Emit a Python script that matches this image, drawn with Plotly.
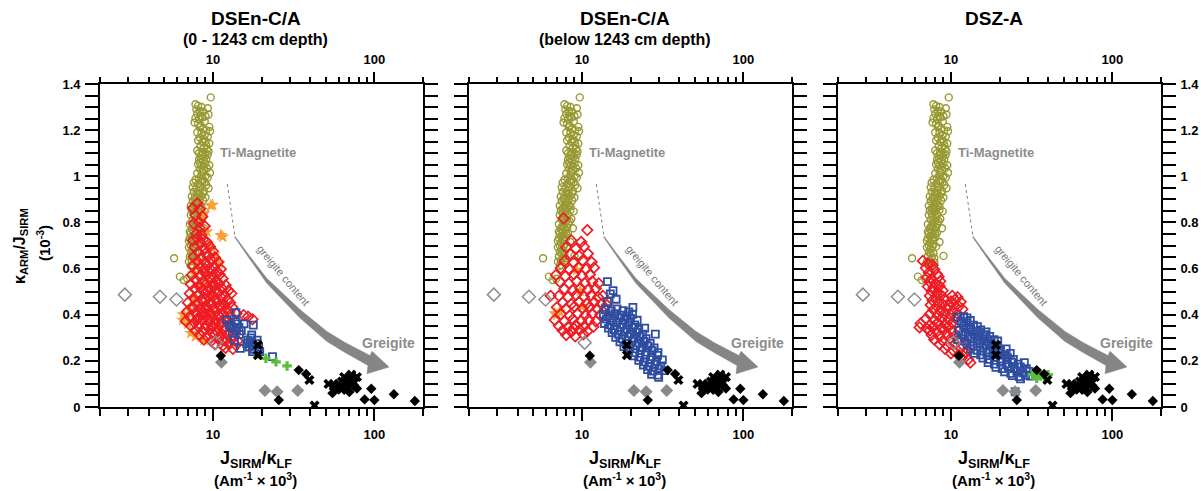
import plotly.graph_objects as go

W, H = 1201, 491
FONT = "Liberation Sans"

# ---------------- data (x = J_SIRM/k_LF, y = k_ARM/J_SIRM) ----------------
# reference data shown in all three panels
ti_mag = [(9.7,1.342),(7.8,1.312),(8.1,1.305),(7.9,1.29),(9.3,1.295),(8.3,1.283),(8.0,1.27),(8.4,1.262),(9.4,1.268),(7.8,1.252),
          (8.2,1.247),(8.6,1.255),(7.7,1.233),(8.1,1.228),(8.9,1.238),(8.3,1.212),(9.5,1.214),(8.7,1.205),(9.6,1.195),(8.5,1.188),
          (8.9,1.178),(8.3,1.168),(8.8,1.162),(9.3,1.172),(8.6,1.148),(9.0,1.152),(9.5,1.142),(8.4,1.132),(8.8,1.126),(9.2,1.118),
          (8.0,1.112),(8.6,1.105),(9.4,1.108),(8.5,1.092),(8.9,1.085),(9.3,1.094),(8.2,1.072),(8.7,1.066),(9.1,1.075),(8.1,1.052),
          (8.5,1.046),(9.0,1.055),(9.5,1.048),(8.3,1.032),(8.8,1.026),(9.2,1.035),(8.0,1.012),(8.5,1.006),(9.6,1.015),(8.2,0.992),
          (8.7,0.986),(9.3,0.995),(7.6,0.972),(8.1,0.966),(8.6,0.975),(9.1,0.962),(7.5,0.952),(7.9,0.946),(8.4,0.955),(9.4,0.948),
          (7.6,0.932),(8.2,0.926),(8.8,0.935),(7.4,0.912),(7.9,0.906),(8.5,0.915),(9.0,0.908),(7.5,0.892),(8.1,0.886),(8.7,0.895),
          (7.3,0.872),(7.8,0.866),(8.3,0.875),(7.4,0.852),(7.9,0.846),(8.5,0.855),(8.9,0.848),(7.3,0.832),(7.7,0.826),(8.2,0.835),
          (7.5,0.812),(8.0,0.806),(8.6,0.815),(7.2,0.792),(7.7,0.786),(8.3,0.795),(7.4,0.772),(7.9,0.766),(8.8,0.775),(7.3,0.752),
          (7.7,0.746),(8.2,0.755),(7.2,0.732),(7.6,0.726),(8.0,0.735),(7.4,0.712),(7.8,0.706),(8.5,0.715),(7.1,0.692),(7.5,0.686),
          (8.1,0.695),(7.3,0.672),(7.8,0.666),(7.2,0.652),(7.6,0.646),(5.75,0.645),(9.0,0.655),(7.4,0.632),(7.9,0.626),(7.3,0.612),
          (6.25,0.565),(6.6,0.55),(6.95,0.556),
          (8.5,1.30),(8.7,1.28),(9.0,1.26),(8.4,1.22),(9.1,1.20),(8.0,1.19),(8.1,1.155),(9.1,1.135),(8.2,1.10),(9.0,1.10),
          (8.4,1.078),(8.8,1.045),(8.3,1.06),(8.6,1.02),(9.0,1.0),(8.4,0.98),(8.9,0.975),(7.8,0.985),(8.3,0.94),(8.7,0.925),
          (8.0,0.925),(7.7,0.905),(8.3,0.898),(7.9,0.876),(8.5,0.87),(7.6,0.86),(8.1,0.858),(7.6,0.84),(8.1,0.82),(7.8,0.80),
          (8.4,0.805),(7.5,0.78),(8.1,0.778),(7.6,0.76),(8.0,0.75),(7.4,0.74),(7.8,0.725),(7.3,0.70),(7.7,0.695),(7.5,0.665),
          (7.9,0.645),(7.5,0.615),(7.1,0.63),(7.2,0.76),(7.1,0.72)]
gray_open = [(2.85,0.487),(4.7,0.478),(5.95,0.466),(10.4,0.279)]
gray_filled = [(11.3,0.194),(21.0,0.071),(25.0,0.066),(33.5,0.071)]
black_dia = [(11.2,0.222),(25.6,0.030),(34,0.160),(37.8,0.143),(95.7,0.079),(87,0.033),(100,0.030),(132,0.055),(178,0.026),
             (55,0.06),(60,0.08),(65,0.075),(70,0.065),(75,0.09),(62,0.095),(58,0.1),(72,0.11),(78,0.08),(68,0.09)]
black_x = [(19,0.269),(19,0.225),(39.6,0.117),(42.6,0.006),(52,0.10),(56,0.09),(60,0.095),(63,0.11),(66,0.10),(70,0.12),
           (72,0.14),(75,0.105),(68,0.085),(58,0.075),(78,0.13),(65,0.13)]

# panel 1: DSEn-C/A 0-1243 cm
red_1 = [(8.0,0.883),(7.5,0.862),(8.3,0.858),(7.8,0.832),(8.6,0.826),(8.2,0.802),(7.6,0.795),(8.3,0.776),(8.9,0.784),(7.9,0.752),
         (8.5,0.746),(8.0,0.732),(8.7,0.726),(7.5,0.722),(8.4,0.708),(9.2,0.714),(7.7,0.692),(8.8,0.686),(9.6,0.695),(8.1,0.672),
         (9.0,0.666),(10.0,0.675),(7.6,0.652),(8.5,0.646),(9.4,0.655),(10.3,0.648),(8.0,0.632),(8.9,0.626),(9.8,0.635),(10.8,0.628),
         (7.5,0.612),(8.4,0.606),(9.3,0.615),(10.2,0.608),(7.9,0.592),(8.8,0.586),(9.7,0.595),(10.6,0.588),(11.2,0.598),(7.4,0.572),
         (8.3,0.566),(9.2,0.575),(10.1,0.568),(11.0,0.574),(7.8,0.552),(8.7,0.546),(9.6,0.555),(10.5,0.548),(11.5,0.556),(7.3,0.532),
         (8.2,0.526),(9.1,0.535),(10.0,0.528),(10.9,0.534),(12.0,0.528),(7.7,0.512),(8.6,0.506),(9.5,0.515),(10.4,0.508),(11.4,0.514),
         (12.5,0.505),(7.2,0.492),(8.1,0.486),(9.0,0.495),(9.9,0.488),(10.8,0.494),(11.8,0.486),(13.0,0.492),(7.6,0.472),(8.5,0.466),
         (9.4,0.475),(10.3,0.468),(11.3,0.474),(12.3,0.466),(7.0,0.452),(7.9,0.446),(8.8,0.455),(9.7,0.448),(10.7,0.454),(11.7,0.446),
         (12.8,0.452),(7.4,0.432),(8.3,0.426),(9.2,0.435),(10.1,0.428),(11.1,0.434),(12.1,0.426),(13.2,0.432),(6.9,0.412),(7.8,0.406),
         (8.7,0.415),(9.6,0.408),(10.5,0.414),(11.5,0.406),(12.6,0.412),(14.0,0.405),(15.5,0.398),(7.2,0.392),(8.1,0.386),(9.0,0.395),
         (9.9,0.388),(10.9,0.394),(11.9,0.386),(13.0,0.392),(16.5,0.392),(17.6,0.38),(6.8,0.372),(7.7,0.366),(8.6,0.375),(9.5,0.368),
         (10.4,0.374),(11.4,0.366),(12.4,0.372),(7.3,0.352),(8.2,0.346),(9.1,0.355),(10.0,0.348),(11.0,0.354),(12.0,0.346),(13.1,0.352),
         (7.8,0.332),(8.7,0.326),(9.6,0.335),(10.6,0.328),(11.6,0.334),(12.7,0.326),(13.8,0.332),(8.3,0.312),(9.2,0.306),(10.2,0.315),
         (11.2,0.308),(12.3,0.314),(13.5,0.306),(8.8,0.292),(9.8,0.286),(10.8,0.295),(11.9,0.288),(13.0,0.294),(14.2,0.286),(10.3,0.272),
         (11.5,0.266),(12.6,0.275),(13.9,0.268),(12.0,0.256),(13.3,0.252),
         (8.4,0.52),(9.3,0.50),(8.8,0.47),(9.8,0.45),(8.5,0.40),(9.4,0.38),(10.3,0.36),(8.9,0.34),(9.9,0.32),(10.8,0.40),
         (9.0,0.42),(8.0,0.38),(9.6,0.56),(10.2,0.53),(8.9,0.60),(11.0,0.44),(10.5,0.33),(11.5,0.29),(7.6,0.43),(8.2,0.36)]
orange_1 = [(9.7,0.873),(8.5,0.82),(9.95,0.876),(8.8,0.84),(11.2,0.745),(11.5,0.738),(9.2,0.76),(10.9,0.623),(7.65,0.58),(9.4,0.70),
            (10.2,0.66),(8.0,0.62),(9.0,0.55),(10.5,0.52),(7.6,0.47),(8.6,0.44),(6.6,0.40),(6.5,0.377),(6.55,0.40),(6.8,0.385),
            (7.0,0.36),(7.8,0.305),(8.8,0.29),(7.3,0.32),(9.5,0.41),(10.8,0.36),(8.2,0.53),(9.8,0.48),(7.2,0.42),(11.8,0.44)]
blue_1 = [(12.2,0.377),(13.9,0.409),(15.6,0.36),(17.8,0.355),(13.6,0.29),(14.8,0.254),(17.4,0.312),(23.4,0.218),(13.0,0.35),(13.5,0.34),
          (14.0,0.33),(14.5,0.345),(13.2,0.32),(14.2,0.36),(15.0,0.33),(14.6,0.315),(13.8,0.37),(12.6,0.355),(16.5,0.29),(17.0,0.28),
          (17.5,0.265),(18.0,0.25),(16.8,0.26),(17.6,0.24),(18.5,0.275),(19.2,0.26),(16.2,0.275),(18.8,0.29),(17.2,0.3),(19.5,0.24)]
green_1 = [(21.3,0.211),(24.6,0.196),(28.8,0.178)]

# panel 2: DSEn-C/A below 1243 cm
red_2 = [(7.7,0.818),(10.8,0.767),(8.6,0.722),(9.9,0.716),(8.0,0.692),(9.2,0.686),(10.3,0.695),(8.5,0.662),(9.6,0.656),(10.9,0.665),
         (7.8,0.632),(8.9,0.626),(10.1,0.635),(11.5,0.628),(7.4,0.602),(8.4,0.596),(9.5,0.605),(10.6,0.598),(11.9,0.604),(6.9,0.572),
         (7.9,0.566),(8.9,0.575),(10.0,0.568),(11.2,0.574),(7.3,0.542),(8.3,0.536),(9.3,0.545),(10.4,0.538),(11.6,0.544),(12.7,0.536),
         (7.8,0.512),(8.8,0.506),(9.8,0.515),(10.9,0.508),(12.2,0.514),(6.4,0.482),(7.2,0.482),(8.2,0.476),(9.2,0.485),(10.3,0.478),
         (11.4,0.484),(12.6,0.476),(13.5,0.482),(7.6,0.452),(8.6,0.446),(9.6,0.455),(10.7,0.448),(11.9,0.454),(13.2,0.446),(7.0,0.432),
         (8.0,0.426),(9.0,0.435),(10.1,0.428),(11.2,0.434),(12.4,0.426),(14.3,0.442),(7.4,0.402),(8.4,0.396),(9.4,0.405),(10.5,0.398),
         (11.6,0.404),(13.0,0.4),(6.8,0.377),(7.8,0.371),(8.8,0.38),(9.9,0.373),(11.0,0.379),(12.2,0.371),(7.2,0.352),(8.2,0.346),
         (9.2,0.355),(10.3,0.348),(11.8,0.348),(7.6,0.332),(8.6,0.326),(9.7,0.335),(10.8,0.328),(8.0,0.312),(8.9,0.341),(9.1,0.306),
         (10.2,0.315)]
orange_2 = [(9.3,0.594),(9.76,0.504),(10.0,0.435),(6.8,0.406),(7.3,0.413),(7.0,0.398)]
blue_2 = [(14.4,0.543),(15.6,0.504),(16.3,0.467),(14.4,0.457),(20.7,0.432),(15.0,0.49),(14.0,0.422),(15.2,0.416),(16.5,0.425),(18.0,0.418),
          (19.5,0.412),(13.6,0.402),(14.8,0.396),(16.0,0.405),(17.4,0.398),(19.0,0.394),(20.6,0.402),(14.2,0.382),(15.5,0.376),(16.9,0.385),
          (18.4,0.378),(20.0,0.384),(22.0,0.376),(13.8,0.362),(15.0,0.356),(16.4,0.365),(17.9,0.358),(19.5,0.364),(21.2,0.356),(14.6,0.342),
          (15.9,0.336),(17.3,0.345),(18.9,0.338),(20.6,0.344),(22.5,0.336),(24.5,0.342),(15.4,0.322),(16.8,0.316),(18.3,0.325),(20.0,0.318),
          (21.8,0.324),(23.8,0.316),(28.5,0.316),(16.2,0.302),(17.7,0.296),(19.3,0.305),(21.1,0.298),(23.0,0.304),(25.0,0.296),(17.2,0.282),
          (18.8,0.276),(20.5,0.285),(22.3,0.278),(24.3,0.284),(26.5,0.276),(18.2,0.262),(19.8,0.256),(21.6,0.265),(23.6,0.258),(25.7,0.264),
          (28.0,0.256),(19.5,0.242),(21.2,0.236),(23.0,0.245),(25.0,0.238),(27.2,0.244),(29.6,0.236),(21.0,0.222),(22.8,0.216),(24.8,0.225),
          (27.0,0.218),(29.4,0.224),(22.5,0.202),(24.4,0.196),(26.6,0.205),(29.0,0.198),(31.5,0.204),(24.0,0.182),(26.0,0.176),(28.3,0.185),
          (30.8,0.178),(25.5,0.162),(27.6,0.156),(30.0,0.165),(32.5,0.158),(27.0,0.142),(29.5,0.138),(29.9,0.128)]

# panel 3: DSZ-A
red_3 = [(6.7,0.633),(7.7,0.615),(7.2,0.622),(7.0,0.602),(7.9,0.596),(7.3,0.582),(8.2,0.576),(7.1,0.562),(7.6,0.556),(8.4,0.565),
         (7.4,0.542),(8.0,0.536),(8.6,0.545),(7.2,0.522),(7.8,0.516),(8.5,0.525),(7.6,0.502),(8.2,0.496),(8.9,0.505),(7.4,0.482),
         (8.1,0.476),(8.7,0.485),(10.2,0.482),(11.0,0.476),(7.7,0.462),(8.4,0.456),(9.1,0.465),(10.0,0.458),(10.6,0.464),(11.5,0.456),
         (7.5,0.442),(8.2,0.436),(8.9,0.445),(9.7,0.438),(10.4,0.444),(11.2,0.436),(7.8,0.422),(8.6,0.416),(9.4,0.425),(10.3,0.418),
         (11.8,0.424),(7.4,0.402),(8.3,0.396),(9.1,0.405),(10.0,0.398),(11.0,0.404),(7.0,0.382),(7.9,0.376),(8.8,0.385),(9.7,0.378),
         (10.7,0.384),(6.5,0.362),(7.4,0.356),(8.3,0.365),(9.2,0.358),(10.2,0.364),(6.4,0.345),(7.1,0.34),(7.8,0.348),(8.7,0.342),
         (9.7,0.35),(7.4,0.332),(8.2,0.326),(9.1,0.335),(10.2,0.328),(11.3,0.334),(7.6,0.312),(8.5,0.306),(9.5,0.315),(10.6,0.308),
         (7.9,0.292),(8.9,0.286),(9.9,0.295),(11.1,0.288),(8.5,0.272),(9.5,0.266),(10.6,0.275),(11.8,0.268),(9.2,0.252),(10.3,0.246),
         (11.5,0.255),(12.7,0.248),(10.0,0.232),(11.2,0.226),(12.4,0.235),(11.6,0.212),(12.8,0.206),(13.2,0.192)]
blue_3 = [(11.0,0.39),(12.0,0.392),(12.6,0.386),(11.6,0.372),(12.4,0.366),(13.2,0.375),(12.0,0.352),(12.9,0.346),(13.8,0.355),(14.6,0.348),
          (11.2,0.332),(12.3,0.326),(13.3,0.335),(14.3,0.328),(15.3,0.334),(16.5,0.326),(11.8,0.312),(12.8,0.306),(13.9,0.315),(15.0,0.308),
          (16.2,0.314),(17.4,0.306),(11.0,0.292),(12.2,0.286),(13.3,0.295),(14.5,0.288),(15.7,0.294),(17.0,0.286),(18.5,0.292),(19.5,0.286),
          (12.6,0.272),(13.8,0.266),(15.1,0.275),(16.4,0.268),(17.8,0.274),(19.3,0.266),(13.2,0.252),(14.5,0.246),(15.8,0.255),(17.2,0.248),
          (18.7,0.254),(20.3,0.246),(22.0,0.252),(14.0,0.232),(15.3,0.226),(16.7,0.235),(18.2,0.228),(19.8,0.234),(21.5,0.226),(23.3,0.232),
          (15.8,0.212),(17.3,0.206),(18.9,0.215),(20.6,0.208),(22.4,0.214),(24.4,0.206),(17.0,0.192),(18.6,0.186),(20.3,0.195),(22.1,0.188),
          (24.0,0.194),(26.1,0.186),(28.5,0.192),(19.0,0.172),(20.8,0.166),(22.7,0.175),(24.7,0.168),(26.9,0.174),(29.3,0.166),(21.5,0.152),
          (23.5,0.146),(25.6,0.155),(27.9,0.148),(30.4,0.154),(24.0,0.136),(26.5,0.132),(29.0,0.138),(31.0,0.134),(27.0,0.122),(25.0,0.066)]
green_3 = [(32,0.14),(34,0.125),(36,0.135),(38,0.128),(40,0.14),(35,0.145)]

panel_titles = ["DSEn-C/A", "DSEn-C/A", "DSZ-A"]
panel_subtitles = ["(0 - 1243 cm depth)", "(below 1243 cm depth)", ""]
x_major = [10, 100]
x_minor = [2, 3, 4, 5, 6, 7, 8, 9, 20, 30, 40, 50, 60, 70, 80, 90, 200]

# ---------------- layout geometry ----------------
PANEL_L = [100, 469, 838]
PANEL_W = 323
PT, PB = 84, 407
dom_y = [1 - PB / H, 1 - PT / H]

OLIVE = "#999933"
RED = "#ee1c24"
ORANGE = "#f7a035"
BLUE = "#2e4da0"
GREEN = "#5cbf3c"
GRAY = "#8c8c8c"

styles = {
    "ti": dict(symbol="circle-open", size=7, color=OLIVE, line=dict(width=1.4, color=OLIVE)),
    "orange": dict(symbol="star", size=10, color=ORANGE, line=dict(width=0)),
    "red": dict(symbol="diamond-open", size=8, color=RED, line=dict(width=1.7, color=RED)),
    "blue": dict(symbol="square-open", size=7, color=BLUE, line=dict(width=1.8, color=BLUE)),
    "green": dict(symbol="cross", size=8, color=GREEN, line=dict(width=0)),
    "gopen": dict(symbol="diamond-open", size=10, color="#909090", line=dict(width=1.5, color="#909090")),
    "gfill": dict(symbol="diamond", size=10, color="#8a8a8a", line=dict(width=0)),
    "bdia": dict(symbol="diamond", size=8, color="black", line=dict(width=0)),
    "bx": dict(symbol="x", size=9, color="black", line=dict(width=0)),
}

panels = [
    [("ti", ti_mag), ("orange", orange_1), ("red", red_1), ("blue", blue_1), ("green", green_1),
     ("gopen", gray_open), ("gfill", gray_filled), ("bdia", black_dia), ("bx", black_x)],
    [("ti", ti_mag), ("orange", orange_2), ("red", red_2), ("blue", blue_2),
     ("gopen", gray_open), ("gfill", gray_filled), ("bdia", black_dia), ("bx", black_x)],
    [("ti", ti_mag), ("red", red_3), ("blue", blue_3), ("green", green_3),
     ("gopen", gray_open), ("gfill", gray_filled), ("bdia", black_dia), ("bx", black_x)],
]

fig = go.Figure()
for i, series in enumerate(panels):
    xa = "x" if i == 0 else f"x{i+1}"
    ya = "y" if i == 0 else f"y{i+1}"
    for key, pts in series:
        fig.add_trace(go.Scatter(x=[p[0] for p in pts], y=[p[1] for p in pts], mode="markers",
                                 marker=styles[key], xaxis=xa, yaxis=ya, hoverinfo="skip", showlegend=False))
    # invisible trace to carry the top axis
    fig.add_trace(go.Scatter(x=[10], y=[None], xaxis=f"x{i+4}", yaxis=ya, mode="markers",
                             marker=dict(opacity=0), showlegend=False, hoverinfo="skip"))

tickfont = dict(family=FONT, size=13, color="black", weight="bold")
xrange_log = [0.30103, 2.30103]

lay = {}
for i in range(3):
    dx = [PANEL_L[i] / W, (PANEL_L[i] + PANEL_W) / W]
    xname = "xaxis" if i == 0 else f"xaxis{i+1}"
    yname = "yaxis" if i == 0 else f"yaxis{i+1}"
    yref = "y" if i == 0 else f"y{i+1}"
    xref = "x" if i == 0 else f"x{i+1}"
    lay[xname] = dict(type="log", range=xrange_log, domain=dx, anchor=yref, side="bottom", automargin=False,
                      showline=True, linecolor="black", linewidth=1.6, mirror=True,
                      showgrid=False, zeroline=False, ticks="outside", ticklen=12, tickwidth=1.6,
                      tickcolor="black", tickmode="array", tickvals=x_major, ticktext=["10", "100"],
                      tickfont=tickfont, ticklabelstandoff=3,
                      minor=dict(tickmode="array", tickvals=x_minor, ticks="outside", ticklen=7,
                                 tickwidth=1.6, tickcolor="black", showgrid=False))
    lay[f"xaxis{i+4}"] = dict(type="log", range=xrange_log, overlaying=xref, anchor=yref, side="top", automargin=False,
                              showline=True, linecolor="black", linewidth=1.6,
                              showgrid=False, zeroline=False, ticks="outside", ticklen=10, tickwidth=1.6,
                              tickcolor="black", tickmode="array", tickvals=x_major, ticktext=["10", "100"],
                              tickfont=tickfont, ticklabelstandoff=3,
                              minor=dict(tickmode="array", tickvals=x_minor, ticks="outside", ticklen=5,
                                         tickwidth=1.6, tickcolor="black", showgrid=False))
    lay[yname] = dict(range=[0, 1.4], domain=dom_y, anchor=xref, side="right" if i == 2 else "left",
                      automargin=False,
                      showline=True, linecolor="black", linewidth=1.6, mirror="allticks",
                      showgrid=False, zeroline=False, ticks="outside", ticklen=13, tickwidth=1.6,
                      tickcolor="black", dtick=0.2, tick0=0, showticklabels=(i != 1),
                      tickfont=tickfont, ticklabelstandoff=2,
                      minor=dict(dtick=0.05, tick0=0, ticks="outside", ticklen=7, tickwidth=1.6,
                                 tickcolor="black", showgrid=False))

# ---------------- annotations / arrow ----------------
def px(panel, rx):
    return (PANEL_L[panel] + rx) / W

def py(ry):
    return 1 - (PT + ry) / H

# arrow outline in panel-relative pixels (x from panel left, y from panel top)
arrow_outline = [(135,152.3),(150,172.6),(167,194.6),(200,225.6),(227,247.4),(245,258.5),(270,271.6),(272,267.2),
                 (289,283),(267,289.8),(268,281.4),(245,268.5),(227,257.6),(200,234),(167,199.4),(150,175.4),(135,153.7)]
arrow_lead = [(127.3,100), (135,153)]

def ann(text, x, y, size, color="black", angle=0):
    return dict(text=text, x=x, y=y, xref="paper", yref="paper", xanchor="center", yanchor="middle",
                showarrow=False, textangle=angle, font=dict(family=FONT, size=size, color=color))

anns = []
shapes = []
for i in range(3):
    path = "M " + " L ".join(f"{px(i, a):.5f},{py(b):.5f}" for a, b in arrow_outline) + " Z"
    shapes.append(dict(type="path", xref="paper", yref="paper", path=path,
                       fillcolor="#858585", line=dict(width=0.5, color="#858585"), layer="below"))
    shapes.append(dict(type="line", xref="paper", yref="paper",
                       x0=px(i, arrow_lead[0][0]), y0=py(arrow_lead[0][1]),
                       x1=px(i, arrow_lead[1][0]), y1=py(arrow_lead[1][1]),
                       line=dict(color="#808080", width=1, dash="dot"), layer="below"))
    anns.append(ann("<b>Ti-Magnetite</b>", px(i, 158), py(69), 13, GRAY))
    anns.append(ann("<b>Greigite</b>", px(i, 288), py(259), 14, GRAY))
    anns.append(ann("greigite content", px(i, 183), py(191), 11, "#7a7a7a", 50))
    cx = (PANEL_L[i] + PANEL_W / 2 - 6) / W
    anns.append(ann(f"<b>{panel_titles[i]}</b>", cx, 1 - 19 / H, 19))
    if panel_subtitles[i]:
        anns.append(ann(f"<b>{panel_subtitles[i]}</b>", cx, 1 - 40 / H, 16))
    anns.append(ann("<b>J<sub>SIRM</sub>/κ<sub>LF</sub></b>", cx, 1 - 459 / H, 18))
    anns.append(ann("<b>(Am<sup>-1</sup> × 10<sup>3</sup>)</b>", cx, 1 - 479 / H, 15))

anns.append(ann("<b>κ<sub>ARM</sub>/J<sub>SIRM</sub></b>", 21 / W, 1 - 246 / H, 16, angle=-90))
anns.append(ann("<b>(10<sup>-3</sup>)</b>", 43 / W, 1 - 243 / H, 15, angle=-90))

fig.update_layout(width=W, height=H, margin=dict(l=0, r=0, t=0, b=0),
                  paper_bgcolor="white", plot_bgcolor="white", showlegend=False,
                  annotations=anns, shapes=shapes, **lay)

fig.write_html("out.html", config={"displayModeBar": False},
               post_script="document.body.style.margin='0';")
